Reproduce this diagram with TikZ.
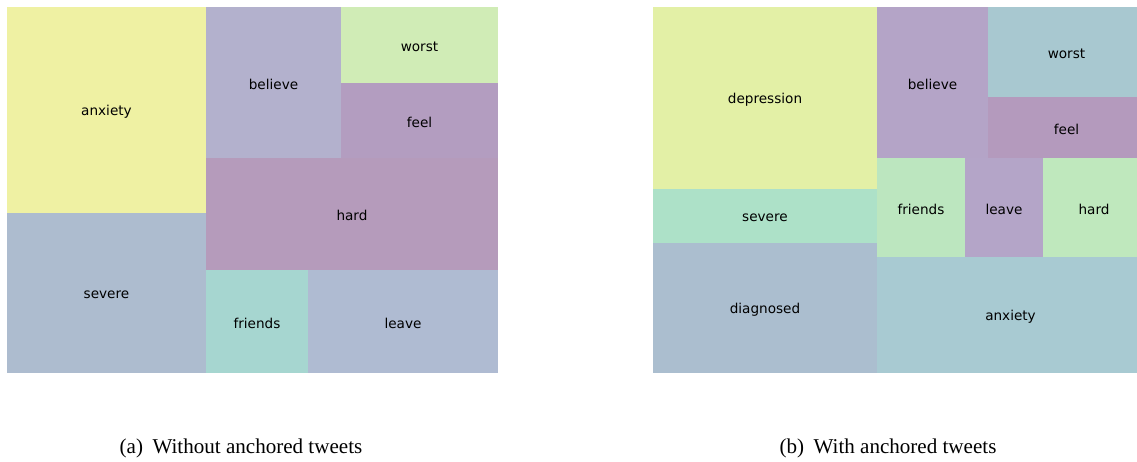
\documentclass[tikz,border=0pt]{standalone}
\usepackage{fontspec}
\setmainfont{Liberation Serif}
\newfontfamily\cellfont{DejaVu Sans}

% cell colours, left map
\definecolor{aAnxiety}{HTML}{EFF1A3}
\definecolor{aSevere}{HTML}{ADBCCF}
\definecolor{aBelieve}{HTML}{B3B1CD}
\definecolor{aWorst}{HTML}{D0ECB6}
\definecolor{aFeel}{HTML}{B39DC0}
\definecolor{aHard}{HTML}{B59BBB}
\definecolor{aFriends}{HTML}{A6D6D0}
\definecolor{aLeave}{HTML}{AFBBD2}
% cell colours, right map
\definecolor{bDepression}{HTML}{E3F0A6}
\definecolor{bSevere}{HTML}{ADE1C8}
\definecolor{bDiagnosed}{HTML}{ABBECF}
\definecolor{bBelieve}{HTML}{B4A4C7}
\definecolor{bWorst}{HTML}{A8C8D0}
\definecolor{bFeel}{HTML}{B49ABD}
\definecolor{bFriends}{HTML}{BCE6BF}
\definecolor{bLeave}{HTML}{B4A5C8}
\definecolor{bHard}{HTML}{BFE8BD}
\definecolor{bAnxiety}{HTML}{A8CAD2}

\begin{document}
\begin{tikzpicture}[x=0.75pt,y=-0.75pt]\tikzset{word/.style = {font=\cellfont\fontsize{10.2}{12}\selectfont, inner sep=0pt, yshift=-1.2pt},
	caption/.style = {font=\fontsize{15.8}{18}\selectfont, inner sep=0pt}}

		\useasboundingbox (0,0) rectangle (1137,461);

		% (a) without anchored tweets
		\fill[aAnxiety] (7,7) rectangle (206,213);
		\fill[aSevere] (7,213) rectangle (206,373);
		\fill[aBelieve] (206,7) rectangle (341,158);
		\fill[aWorst] (341,7) rectangle (498,83);
		\fill[aFeel] (341,83) rectangle (498,158);
		\fill[aHard] (206,158) rectangle (498,270);
		\fill[aFriends] (206,270) rectangle (308,373);
		\fill[aLeave] (308,270) rectangle (498,373);

		\node[word] (anxiety_a) at (106.5,110) {anxiety};
		\node[word] (severe_a) at (106.5,293) {severe};
		\node[word] (believe_a) at (273.5,82.5) {believe};
		\node[word] (worst_a) at (419.5,45) {worst};
		\node[word] (feel_a) at (419.5,120.5) {feel};
		\node[word] (hard_a) at (352,214) {hard};
		\node[word] (friends_a) at (257,321.5) {friends};
		\node[word] (leave_a) at (403,321.5) {leave};

		% (b) with anchored tweets
		\fill[bDepression] (653,7) rectangle (877,189);
		\fill[bSevere] (653,189) rectangle (877,243);
		\fill[bDiagnosed] (653,243) rectangle (877,373);
		\fill[bBelieve] (877,7) rectangle (988,158);
		\fill[bWorst] (988,7) rectangle (1137,97);
		\fill[bFeel] (988,97) rectangle (1137,158);
		\fill[bFriends] (877,158) rectangle (965,257);
		\fill[bLeave] (965,158) rectangle (1043,257);
		\fill[bHard] (1043,158) rectangle (1137,257);
		\fill[bAnxiety] (877,257) rectangle (1137,373);

		\node[word] (depression_b) at (765,98) {depression};
		\node[word] (severe_b) at (765,216) {severe};
		\node[word] (diagnosed_b) at (765,308) {diagnosed};
		\node[word] (believe_b) at (932.5,82.5) {believe};
		\node[word] (worst_b) at (1066.5,52) {worst};
		\node[word] (feel_b) at (1066.5,127.5) {feel};
		\node[word] (friends_b) at (921,207.5) {friends};
		\node[word] (leave_b) at (1004,207.5) {leave};
		\node[word] (hard_b) at (1094,207.5) {hard};
		\node[word] (anxiety_b) at (1010.5,315) {anxiety};

		\node[caption] (cap_a) at (241,448) {(a)\hspace{0.45em}Without anchored tweets};
		\node[caption] (cap_b) at (888,448) {(b)\hspace{0.45em}With anchored tweets};
	\end{tikzpicture}
\end{document}
